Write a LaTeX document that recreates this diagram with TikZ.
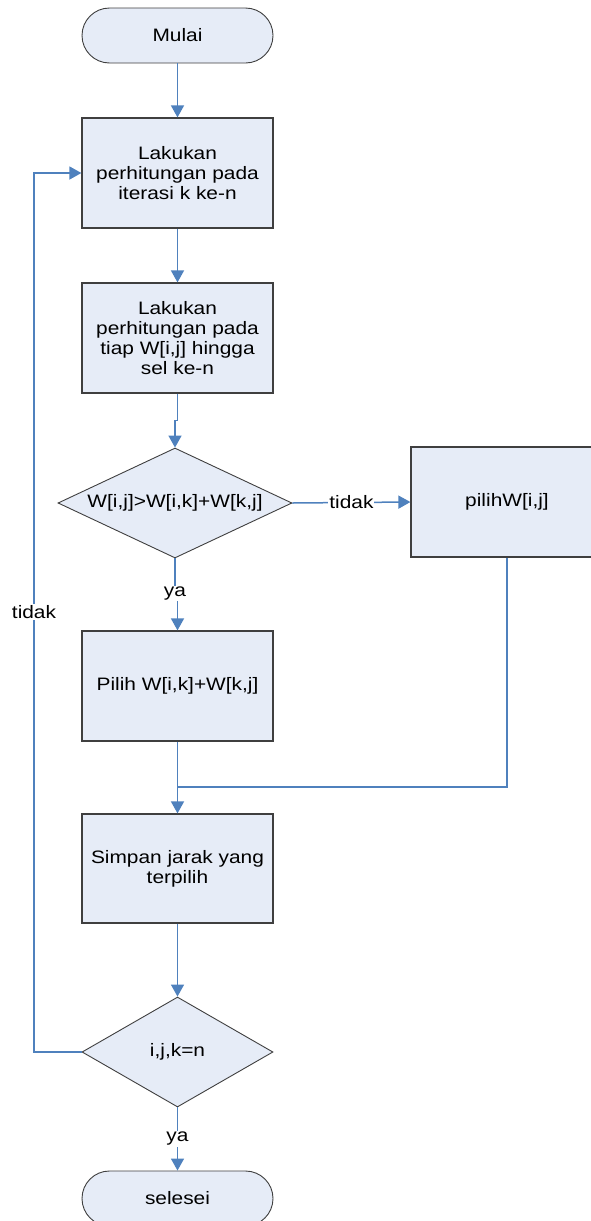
\documentclass[tikz,border=0pt]{standalone}
\usepackage{fontspec}
\setmainfont[FakeStretch=1.16]{Liberation Sans}
\usetikzlibrary{shapes.geometric,arrows.meta}

\definecolor{isian}{HTML}{E6ECF7}
\definecolor{garis}{HTML}{4F81BD}
\definecolor{tepi}{HTML}{3F3F3F}

\tikzset{
  proses/.style={rectangle, draw=tepi, fill=isian, line width=1.2pt,
    minimum width=191pt, minimum height=110pt, align=center, inner sep=0pt},
  terminal/.style={proses, minimum height=55pt, rounded corners=27.5pt, line width=0.9pt},
  keputusan/.style={diamond, draw=tepi, fill=isian, line width=0.9pt, inner sep=0pt},
  alur/.style={draw=garis, line width=1.5pt, -{Triangle[width=13pt,length=12pt]}},
  garisan/.style={draw=garis, line width=1.5pt},
  lbl/.style={fill=white, inner sep=1pt}
}

\begin{document}
\begin{tikzpicture}[x=1pt, y=-1pt, font=\fontsize{18}{20}\selectfont]

\useasboundingbox (0,0) rectangle (591,1221);

% Nodes
\node[terminal] (mulai) at (177.5,35.5) {Mulai};
\node[proses] (hitungk) at (177.5,173) {Lakukan\\perhitungan pada\\iterasi k ke-n};
\node[proses] (hitungw) at (177.5,338) {Lakukan\\perhitungan pada\\tiap W[i,j] hingga\\sel ke-n};
\node[keputusan, minimum width=234pt, minimum height=110pt,
  label=center:{W[i,j]>W[i,k]+W[k,j]}] (banding) at (175,503) {};
\node[proses, minimum width=192pt] (pilihij) at (507,502) {pilihW[i,j]};
\node[proses] (pilihk) at (177.5,686) {Pilih W[i,k]+W[k,j]};
\node[proses, minimum height=109pt] (simpan) at (177.5,868.5) {Simpan jarak yang\\terpilih};
\node[keputusan, minimum width=191pt, minimum height=110pt,
  label=center:{i,j,k=n}] (cek) at (177.5,1052) {};
\node[terminal] (selesai) at (177.5,1198.5) {selesei};

% Join and loop points
\coordinate (gabung) at (177.5,787);
\coordinate (balik) at (34,612);

% Connectors
\draw[alur] (mulai) -- (hitungk);
\draw[alur] (hitungk) -- (hitungw);
\draw[alur] (hitungw.south) -- ++(0,27) -| (banding.north);
\draw[alur] (banding.east) -- node[lbl] {tidak} (pilihij.west);
\draw[alur] (banding.south) -- ++(0,35) node[lbl] {ya} -| (pilihk.north);
\draw[alur] (pilihk) -- (simpan);
\draw[garisan] (pilihij.south) |- (gabung);
\draw[alur] (simpan) -- (cek);
\draw[alur] (cek.south) -- node[lbl] {ya} (selesai.north);
\draw[alur] (cek.west) -| (balik) node[lbl] {tidak} |- (hitungk.west);

\end{tikzpicture}
\end{document}
